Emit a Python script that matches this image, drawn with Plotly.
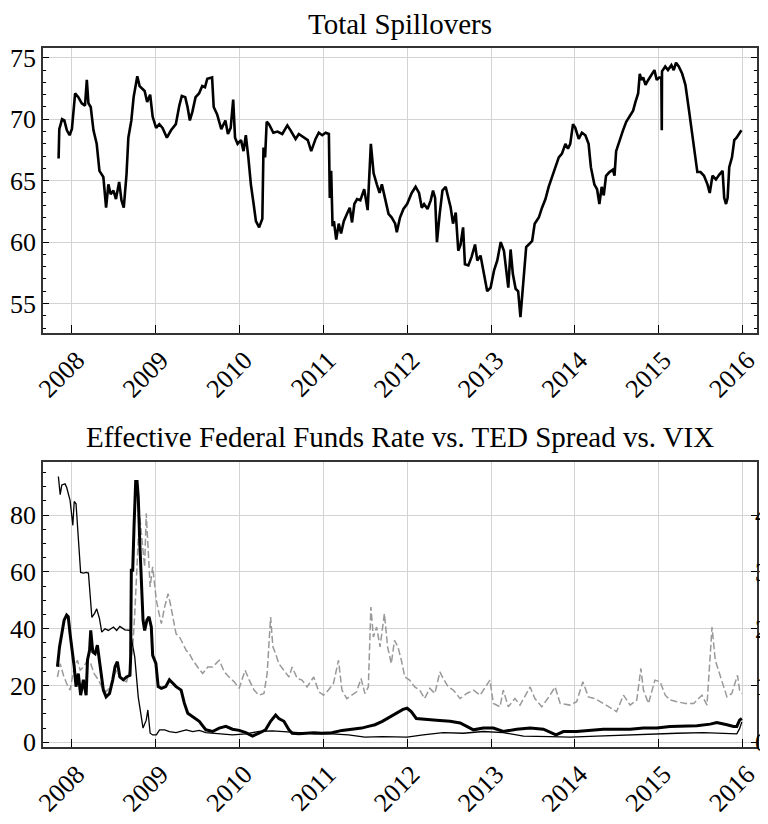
import plotly.graph_objects as go

# ---------------- Top panel: Total Spillovers ----------------
spill_dates = [
    "2007-11-04", "2007-11-07", "2007-11-19", "2007-11-29", "2007-12-10", "2007-12-22",
    "2008-01-01", "2008-01-08", "2008-01-15", "2008-01-29", "2008-02-13", "2008-02-27",
    "2008-03-06", "2008-03-13", "2008-03-23", "2008-04-04", "2008-04-18", "2008-04-30",
    "2008-05-17", "2008-05-29", "2008-06-08", "2008-06-18", "2008-06-30", "2008-07-11",
    "2008-07-25", "2008-08-04", "2008-08-14", "2008-08-26", "2008-09-03", "2008-09-16",
    "2008-09-26", "2008-10-12", "2008-10-22", "2008-11-13", "2008-11-24", "2008-12-07",
    "2008-12-18", "2009-01-02", "2009-01-16", "2009-01-30", "2009-02-18", "2009-03-08",
    "2009-03-29", "2009-04-13", "2009-04-24", "2009-05-09", "2009-05-19", "2009-05-29",
    "2009-06-09", "2009-06-23", "2009-07-08", "2009-07-22", "2009-08-03", "2009-08-13",
    "2009-08-27", "2009-09-03", "2009-09-10", "2009-09-25", "2009-10-13", "2009-10-31",
    "2009-11-11", "2009-11-23", "2009-12-04", "2009-12-12", "2009-12-23",
    "2010-01-07", "2010-01-18", "2010-01-28", "2010-02-08", "2010-02-19", "2010-03-03",
    "2010-03-13", "2010-03-27", "2010-04-10", "2010-04-15", "2010-04-22", "2010-04-29",
    "2010-05-09", "2010-05-28", "2010-06-15", "2010-07-06", "2010-07-28", "2010-08-11",
    "2010-09-02", "2010-09-16", "2010-10-08", "2010-10-25", "2010-11-09", "2010-11-28",
    "2010-12-12", "2010-12-27", "2011-01-11", "2011-01-25", "2011-01-29", "2011-02-04",
    "2011-02-10", "2011-02-16", "2011-02-26", "2011-03-09", "2011-03-19", "2011-03-31",
    "2011-04-14", "2011-04-26", "2011-05-06", "2011-05-16", "2011-05-28", "2011-06-11",
    "2011-06-28", "2011-07-13", "2011-07-27", "2011-08-08", "2011-08-22", "2011-09-03",
    "2011-09-13", "2011-09-27", "2011-10-12", "2011-10-26", "2011-11-10", "2011-11-17",
    "2011-12-01", "2011-12-16", "2012-01-01", "2012-01-21", "2012-02-07", "2012-02-22",
    "2012-03-05", "2012-03-15", "2012-03-30", "2012-04-13", "2012-04-23", "2012-05-02",
    "2012-05-10", "2012-05-22", "2012-06-03", "2012-06-17", "2012-06-29", "2012-07-09",
    "2012-07-19", "2012-07-31", "2012-08-11", "2012-08-21", "2012-09-01", "2012-09-09",
    "2012-09-24", "2012-10-08", "2012-10-23", "2012-11-02", "2012-11-16", "2012-12-01",
    "2012-12-15", "2012-12-30", "2013-01-14", "2013-01-28", "2013-02-12", "2013-02-26",
    "2013-03-08", "2013-03-17", "2013-03-27", "2013-04-06", "2013-04-18", "2013-04-29",
    "2013-05-09", "2013-05-16", "2013-05-24", "2013-06-03", "2013-06-14", "2013-06-29",
    "2013-07-10", "2013-07-28", "2013-08-11", "2013-08-26", "2013-09-09", "2013-09-24",
    "2013-10-08", "2013-10-23", "2013-11-06", "2013-11-21", "2013-12-02", "2013-12-12",
    "2013-12-24", "2014-01-03", "2014-01-18", "2014-02-01", "2014-02-16", "2014-03-02",
    "2014-03-12", "2014-03-27", "2014-04-08", "2014-04-18", "2014-04-28", "2014-05-07",
    "2014-05-17", "2014-06-01", "2014-06-16", "2014-06-23", "2014-06-30", "2014-07-15",
    "2014-07-30", "2014-08-13", "2014-08-28", "2014-09-12", "2014-09-22", "2014-10-04",
    "2014-10-11", "2014-10-18", "2014-10-26", "2014-11-05", "2014-11-17", "2014-12-02",
    "2014-12-14", "2014-12-24", "2015-01-04", "2015-01-13", "2015-01-15", "2015-01-16",
    "2015-01-30", "2015-02-11", "2015-02-26", "2015-03-08", "2015-03-18", "2015-03-30",
    "2015-04-14", "2015-04-28", "2015-05-13", "2015-05-28", "2015-06-08", "2015-06-19",
    "2015-07-03", "2015-07-18", "2015-08-02", "2015-08-12", "2015-08-24", "2015-09-08",
    "2015-09-23", "2015-10-07", "2015-10-14", "2015-10-22", "2015-10-29", "2015-11-05",
    "2015-11-17", "2015-11-27", "2015-12-07", "2015-12-19", "2015-12-28",
]
spill_values = [
    66.8, 69.2, 70.0, 69.9, 69.1, 68.7,
    69.2, 70.4, 72.1, 71.8, 71.3, 71.1,
    73.2, 71.3, 71.0, 69.1, 68.0, 65.8,
    65.3, 62.8, 64.7, 63.9, 64.2, 63.5,
    64.9, 63.4, 62.8, 65.5, 68.5, 69.9,
    71.8, 73.5, 72.7, 72.3, 71.4, 72.0,
    70.2, 69.3, 69.6, 69.3, 68.5, 69.1,
    69.6, 71.1, 71.9, 71.8, 71.0, 69.9,
    70.6, 71.8, 72.1, 72.7, 72.6, 73.3,
    73.4, 73.4, 71.0, 70.4, 69.2, 69.9,
    68.8, 69.3, 71.6, 68.5, 68.0,
    68.3, 67.4, 68.7, 66.9, 64.7, 63.1,
    61.7, 61.2, 61.9, 67.7, 66.9, 69.8,
    69.6, 68.9, 69.0, 68.8, 69.5, 69.1,
    68.4, 68.8, 68.5, 68.3, 67.4, 68.4,
    68.9, 68.7, 68.9, 68.8, 63.6, 65.8,
    61.3, 61.7, 60.2, 61.5, 60.7, 61.7,
    62.3, 62.8, 61.6, 63.1, 63.5, 63.4,
    64.3, 62.6, 68.0, 65.6, 64.7, 64.0,
    64.7, 63.4, 62.3, 62.0, 61.5, 60.8,
    62.0, 62.7, 63.1, 64.0, 64.5, 64.0,
    62.8, 63.1, 62.7, 63.4, 64.2, 63.6,
    60.0, 62.3, 64.2, 64.5, 63.6, 62.8,
    61.5, 62.4, 59.3, 59.8, 61.2, 58.2,
    58.1, 58.8, 59.8, 58.5, 58.9, 57.4,
    56.0, 56.3, 57.7, 58.5, 60.0, 59.3,
    57.4, 56.3, 59.4, 57.4, 56.2, 56.0,
    53.9, 55.5, 57.9, 59.6, 59.8, 60.1,
    61.5, 62.0, 62.8, 63.5, 64.5, 65.3,
    66.1, 66.9, 67.2, 68.0, 67.6, 68.0,
    69.6, 69.3, 68.4, 68.9, 68.7, 68.0,
    66.1, 64.7, 64.3, 63.1, 64.5, 63.8,
    65.4, 65.7, 65.9, 65.4, 67.4, 68.3,
    69.1, 69.8, 70.3, 70.7, 71.4, 72.1,
    73.7, 73.2, 73.4, 72.8, 73.2, 73.7,
    74.0, 73.2, 73.4, 73.4, 69.1, 73.9,
    74.3, 74.0, 74.4, 74.0, 74.6, 74.3,
    73.7, 72.8, 70.8, 68.8, 67.2, 65.7,
    65.7, 65.4, 64.7, 64.0, 65.4, 65.1,
    65.5, 65.8, 63.6, 63.1, 63.6, 66.1,
    66.9, 68.3, 68.5, 68.8, 69.1,
]

# ---------------- Bottom panel ----------------
# Effective Federal Funds Rate (right axis, %)
ffr_dates = [
    "2007-11-03", "2007-11-11", "2007-11-18", "2007-12-02", "2007-12-09", "2007-12-24",
    "2008-01-05", "2008-01-11", "2008-01-19", "2008-01-29", "2008-02-08", "2008-02-20",
    "2008-03-03", "2008-03-13", "2008-03-23", "2008-03-28", "2008-04-09", "2008-04-18",
    "2008-04-30", "2008-05-10", "2008-05-24", "2008-06-08", "2008-06-30", "2008-07-14",
    "2008-07-28", "2008-08-19", "2008-09-10", "2008-10-01", "2008-10-16", "2008-10-30",
    "2008-11-06", "2008-11-20", "2008-11-27", "2008-12-07", "2008-12-18",
    "2009-01-03", "2009-01-17", "2009-02-08", "2009-03-01", "2009-03-30", "2009-05-13",
    "2009-06-11", "2009-07-09", "2009-08-07", "2009-09-20", "2009-12-01",
    "2010-01-28", "2010-03-26", "2010-05-23", "2010-07-20", "2010-09-16", "2010-11-27",
    "2011-02-07", "2011-04-20", "2011-07-01", "2011-09-15",
    "2012-01-01", "2012-03-11", "2012-06-06", "2012-09-02", "2012-11-28",
    "2013-02-23", "2013-05-22", "2013-09-15", "2013-12-11",
    "2014-04-07", "2014-08-01", "2014-11-24", "2015-03-22", "2015-07-16",
    "2015-11-09", "2015-12-08", "2015-12-20", "2015-12-30",
]
ffr_values = [
    4.68, 4.36, 4.53, 4.55, 4.49, 4.26,
    3.82, 4.24, 4.20, 3.62, 2.99, 2.98,
    2.99, 2.98, 2.50, 2.20, 2.27, 2.35,
    2.18, 1.94, 2.00, 1.97, 2.03, 1.97,
    2.04, 1.98, 1.97, 1.50, 0.80, 0.39,
    0.25, 0.39, 0.57, 0.16, 0.13,
    0.13, 0.22, 0.22, 0.19, 0.17, 0.22,
    0.19, 0.21, 0.17, 0.15, 0.13,
    0.15, 0.19, 0.20, 0.19, 0.17, 0.15,
    0.15, 0.13, 0.09, 0.10,
    0.09, 0.13, 0.17, 0.16, 0.19,
    0.17, 0.11, 0.10, 0.09,
    0.11, 0.13, 0.15, 0.16, 0.17,
    0.15, 0.15, 0.24, 0.36,
]

# TED Spread (right axis, %)
ted_dates = [
    "2007-10-30", "2007-11-08", "2007-11-18", "2007-11-28", "2007-12-09", "2007-12-16",
    "2007-12-24", "2008-01-01", "2008-01-11", "2008-01-19", "2008-01-29", "2008-02-08",
    "2008-02-20", "2008-03-03", "2008-03-09", "2008-03-18", "2008-03-23", "2008-04-01",
    "2008-04-11", "2008-04-21", "2008-05-03", "2008-05-17", "2008-05-29", "2008-06-13",
    "2008-06-27", "2008-07-07", "2008-07-17", "2008-07-28", "2008-08-12", "2008-08-26",
    "2008-09-10", "2008-09-13", "2008-09-16", "2008-09-22", "2008-09-28", "2008-10-05",
    "2008-10-11", "2008-10-16", "2008-10-23", "2008-10-30", "2008-11-06", "2008-11-13",
    "2008-11-23", "2008-12-02", "2008-12-12", "2008-12-18",
    "2009-01-01", "2009-01-11", "2009-01-25", "2009-02-13", "2009-03-01", "2009-03-16",
    "2009-03-30", "2009-04-21", "2009-05-05", "2009-05-20", "2009-06-11", "2009-07-09",
    "2009-08-07", "2009-09-05", "2009-10-04", "2009-11-02", "2009-12-01", "2009-12-30",
    "2010-01-28", "2010-02-26", "2010-03-26", "2010-04-24", "2010-05-16", "2010-06-07",
    "2010-06-21", "2010-07-13", "2010-08-04", "2010-08-18", "2010-09-16", "2010-10-15",
    "2010-11-20", "2010-12-26", "2011-02-07", "2011-03-23", "2011-05-05", "2011-06-17",
    "2011-07-16", "2011-08-14", "2011-09-15", "2011-11-01", "2011-12-14",
    "2012-01-01", "2012-01-19", "2012-02-10", "2012-03-25", "2012-05-08", "2012-07-06",
    "2012-08-19", "2012-09-17", "2012-10-16", "2012-11-28", "2013-01-11", "2013-02-23",
    "2013-04-23", "2013-06-20", "2013-08-17", "2013-10-11", "2013-11-12",
    "2014-01-09", "2014-03-08", "2014-05-05", "2014-07-02", "2014-08-30", "2014-10-27",
    "2014-12-24", "2015-02-20", "2015-04-20", "2015-06-17", "2015-08-14", "2015-09-12",
    "2015-10-26", "2015-11-24", "2015-12-08", "2015-12-20", "2015-12-30",
]
ted_values = [
    1.33, 1.68, 1.91, 2.15, 2.24, 2.21,
    1.91, 1.68, 1.33, 0.98, 1.21, 0.83,
    1.10, 0.83, 1.45, 1.62, 1.97, 1.59,
    1.56, 1.71, 1.30, 0.92, 0.80, 0.86,
    1.10, 1.33, 1.42, 1.15, 1.10, 1.15,
    1.18, 1.50, 3.03, 3.03, 3.83, 4.59,
    4.59, 4.33, 3.50, 2.73, 2.15, 1.97,
    2.15, 2.21, 2.03, 1.53,
    1.39, 0.98, 0.95, 0.98, 1.10, 1.04,
    0.98, 0.92, 0.69, 0.51, 0.45, 0.37,
    0.22, 0.19, 0.25, 0.28, 0.23, 0.21,
    0.17, 0.11, 0.16, 0.22, 0.37, 0.48,
    0.42, 0.37, 0.22, 0.16, 0.15, 0.16,
    0.17, 0.16, 0.17, 0.21, 0.23, 0.25,
    0.28, 0.31, 0.37, 0.48, 0.58,
    0.60, 0.54, 0.42, 0.41, 0.39, 0.37,
    0.34, 0.28, 0.22, 0.25, 0.25, 0.19,
    0.23, 0.25, 0.23, 0.13, 0.19,
    0.19, 0.21, 0.23, 0.23, 0.23, 0.25,
    0.25, 0.28, 0.29, 0.29, 0.32, 0.35,
    0.31, 0.28, 0.28, 0.39, 0.42,
]

# VIX (left axis)
vix_dates = [
    "2007-10-30", "2007-11-11", "2007-11-25", "2007-12-09", "2007-12-24",
    "2008-01-11", "2008-01-25", "2008-02-06", "2008-02-20", "2008-03-09", "2008-03-23",
    "2008-04-07", "2008-04-26", "2008-05-10", "2008-05-29", "2008-06-16", "2008-06-30",
    "2008-07-14", "2008-07-28", "2008-08-12", "2008-08-26", "2008-09-10", "2008-09-22",
    "2008-10-01", "2008-10-16", "2008-10-23", "2008-11-03", "2008-11-13", "2008-11-20",
    "2008-11-27", "2008-12-07", "2008-12-18",
    "2009-01-03", "2009-01-15", "2009-01-25", "2009-02-08", "2009-02-23", "2009-03-05",
    "2009-03-16", "2009-03-30", "2009-04-14", "2009-04-28", "2009-05-13", "2009-05-27",
    "2009-06-11", "2009-07-02", "2009-07-24", "2009-08-15", "2009-09-05", "2009-10-04",
    "2009-10-26", "2009-11-16", "2009-12-08", "2009-12-30",
    "2010-01-25", "2010-02-12", "2010-03-05", "2010-03-26", "2010-04-17", "2010-05-01",
    "2010-05-16", "2010-05-26", "2010-06-07", "2010-06-21", "2010-07-13", "2010-08-04",
    "2010-08-18", "2010-09-09", "2010-09-30", "2010-10-22", "2010-11-20", "2010-12-12",
    "2011-01-02", "2011-01-23", "2011-02-14", "2011-03-08", "2011-03-23", "2011-04-13",
    "2011-05-05", "2011-05-26", "2011-06-14", "2011-07-01", "2011-07-16", "2011-07-27",
    "2011-08-07", "2011-08-21", "2011-09-05", "2011-09-24", "2011-10-08", "2011-10-24",
    "2011-11-07", "2011-11-22", "2011-12-07", "2011-12-22",
    "2012-01-12", "2012-02-03", "2012-02-25", "2012-03-17", "2012-04-09", "2012-05-01",
    "2012-05-23", "2012-06-06", "2012-06-28", "2012-07-20", "2012-08-19", "2012-09-17",
    "2012-10-16", "2012-11-14", "2012-12-27",
    "2013-01-11", "2013-02-09", "2013-02-23", "2013-03-17", "2013-04-15", "2013-05-07",
    "2013-06-20", "2013-07-11", "2013-08-10", "2013-09-15", "2013-10-07", "2013-10-29",
    "2013-12-11",
    "2014-01-09", "2014-02-05", "2014-03-01", "2014-03-30", "2014-05-05", "2014-06-18",
    "2014-07-02", "2014-08-01", "2014-08-30", "2014-09-28", "2014-10-16", "2014-10-27",
    "2014-11-18", "2014-12-16",
    "2015-01-08", "2015-01-30", "2015-02-20", "2015-03-22", "2015-04-27", "2015-06-03",
    "2015-07-09", "2015-07-31", "2015-08-22", "2015-09-05", "2015-09-19", "2015-10-04",
    "2015-10-26", "2015-11-16", "2015-12-11", "2015-12-20", "2015-12-30",
]
vix_values = [
    23.0, 27.7, 23.6, 20.7, 18.4,
    26.5, 28.9, 25.4, 26.5, 28.9, 27.7,
    24.2, 21.9, 19.5, 17.8, 19.5, 23.0,
    25.4, 23.0, 21.9, 21.3, 25.4, 33.6,
    45.3, 71.2, 79.4, 70.0, 61.8, 80.6,
    68.8, 54.7, 61.8,
    50.0, 45.3, 41.8, 47.6, 52.3, 48.8,
    44.1, 38.2, 37.1, 34.7, 32.4, 31.2,
    28.9, 26.5, 24.2, 26.5, 26.5, 28.9,
    24.8, 23.0, 21.3, 19.0,
    25.4, 21.9, 18.4, 16.6, 17.2, 24.2,
    44.1, 33.6, 31.2, 27.7, 25.4, 23.0,
    26.5, 22.5, 21.9, 19.5, 23.0, 17.8,
    16.6, 18.4, 20.7, 28.9, 18.4, 15.4,
    16.6, 17.8, 22.5, 17.2, 19.5, 47.6,
    37.1, 40.6, 33.6, 45.3, 33.6, 27.7,
    35.9, 33.6, 28.9, 23.0,
    21.9, 19.5, 18.4, 15.4, 19.0, 17.2,
    24.8, 22.5, 19.5, 18.4, 15.4, 17.2,
    18.4, 16.6, 21.9,
    13.7, 12.5, 18.4, 12.5, 15.4, 13.1,
    19.5, 15.4, 12.5, 16.6, 19.5, 13.7,
    13.1,
    14.3, 21.3, 16.0, 15.4, 13.7, 11.3,
    10.8, 16.6, 13.1, 14.9, 26.0, 18.4,
    13.7, 21.9,
    21.3, 16.6, 14.9, 14.3, 13.7, 13.7,
    16.6, 13.1, 40.6, 28.9, 25.4, 21.3,
    16.0, 17.2, 23.6, 18.4, 17.2,
]

year_ticks = [f"{y}-01-01" for y in range(2008, 2017)]
year_labels = [str(y) for y in range(2008, 2017)]
x_range = ["2007-08-28", "2016-03-05"]

FONT = "Liberation Serif"
AX = "#333333"
GRID = "#d3d3d3"
# the page body has an 8px margin, so the figure is drawn 8px in from the top-left
W, H = 760, 816
OFF = 8

def py(p):
    """page pixel row -> paper fraction"""
    return 1 - (p - OFF) / H

fig = go.Figure()
fig.add_trace(go.Scatter(x=spill_dates, y=spill_values, mode="lines",
                         line=dict(color="black", width=2.6), xaxis="x", yaxis="y",
                         showlegend=False))
fig.add_trace(go.Scatter(x=vix_dates, y=vix_values, mode="lines",
                         line=dict(color="#999999", width=1.5, dash="7px,3px"),
                         xaxis="x2", yaxis="y2", showlegend=False))
fig.add_trace(go.Scatter(x=ffr_dates, y=ffr_values, mode="lines",
                         line=dict(color="black", width=1.3), xaxis="x2", yaxis="y3",
                         showlegend=False))
fig.add_trace(go.Scatter(x=ted_dates, y=ted_values, mode="lines",
                         line=dict(color="black", width=3), xaxis="x2", yaxis="y3",
                         showlegend=False))

def xax(anchor):
    return dict(
        type="date", range=x_range, domain=[0, 1], anchor=anchor,
        tickmode="array", tickvals=year_ticks, ticktext=year_labels,
        tickangle=-45, ticks="inside", ticklen=8, tickwidth=1.2, tickcolor="black",
        ticklabelshift=5,
        showline=True, linecolor=AX, linewidth=1.5, mirror=True,
        showgrid=True, gridcolor=GRID, gridwidth=1,
        tickfont=dict(family=FONT, size=26, color="black"),
        automargin=False, zeroline=False,
    )

top_dom = [py(333), py(48)]
bot_dom = [py(747), py(462)]

fig.update_layout(
    width=W, height=H,
    margin=dict(l=43 - OFF, r=W - (757 - OFF), t=0, b=0),
    paper_bgcolor="white", plot_bgcolor="white",
    template="none",
    xaxis=xax("y"),
    xaxis2=xax("y2"),
    yaxis=dict(
        domain=top_dom, anchor="x", range=[52.6, 75.8],
        tickmode="array", tickvals=[55, 60, 65, 70, 75],
        ticks="inside", ticklen=6, tickwidth=1.2, tickcolor="black",
        minor=dict(dtick=1, tick0=0, ticks="inside", ticklen=3, tickcolor="black", showgrid=False),
        showline=True, linecolor=AX, linewidth=1.5, mirror="allticks",
        showgrid=True, gridcolor=GRID, gridwidth=1, zeroline=False,
        tickfont=dict(family=FONT, size=26, color="black"), automargin=False,
    ),
    yaxis2=dict(
        domain=bot_dom, anchor="x2", range=[-1.65, 98.7],
        tickmode="array", tickvals=[0, 20, 40, 60, 80],
        ticks="inside", ticklen=6, tickwidth=1.2, tickcolor="black",
        minor=dict(dtick=5, tick0=0, ticks="inside", ticklen=3, tickcolor="black", showgrid=False),
        showline=True, linecolor=AX, linewidth=1.5, mirror=True,
        showgrid=True, gridcolor=GRID, gridwidth=1, zeroline=False,
        tickfont=dict(family=FONT, size=26, color="black"), automargin=False,
    ),
    yaxis3=dict(
        overlaying="y2", anchor="x2", side="right", range=[-0.0825, 4.935],
        tickmode="array", tickvals=[0, 1, 2, 3, 4],
        ticks="inside", ticklen=6, tickwidth=1.2, tickcolor="black",
        ticklabelstandoff=-3,
        showline=False, showgrid=False, zeroline=False,
        tickfont=dict(family=FONT, size=26, color="black"), automargin=False,
    ),
    annotations=[
        dict(text="Total Spillovers", x=0.5, y=py(24), xref="paper", yref="paper",
             xanchor="center", yanchor="middle", showarrow=False,
             font=dict(family=FONT, size=29, color="black")),
        dict(text="Effective Federal Funds Rate vs. TED Spread vs. VIX", x=0.5, y=py(437),
             xref="paper", yref="paper", xanchor="center", yanchor="middle", showarrow=False,
             font=dict(family=FONT, size=29, color="black")),
    ],
)

fig.write_html("out.html")
